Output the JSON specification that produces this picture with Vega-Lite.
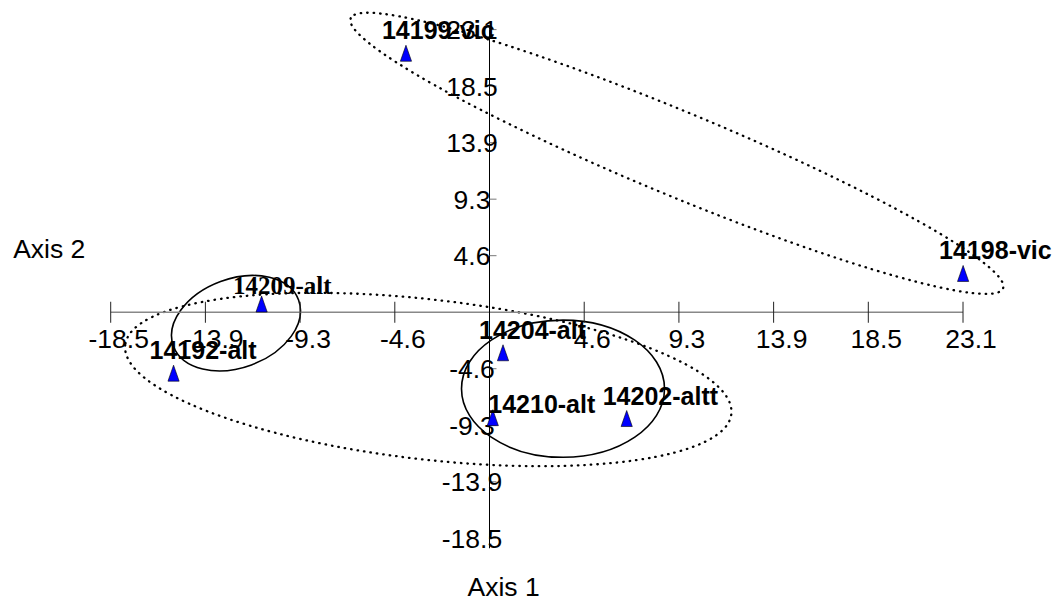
{
  "$schema": "https://vega.github.io/schema/vega-lite/v6.json",
  "width": 1057,
  "height": 601,
  "autosize": "none",
  "padding": 0,
  "background": "white",
  "config": {"view": {"stroke": null}},
  "datasets": {
    "points": [
      {"name": "14198-vic", "x": 23.13, "y": 3.17},
      {"name": "14199-vic", "x": -4.08, "y": 21.19},
      {"name": "14209-alt", "x": -11.13, "y": 0.67},
      {"name": "14192-alt", "x": -15.43, "y": -4.99},
      {"name": "14204-alt", "x": 0.66, "y": -3.32},
      {"name": "14210-alt", "x": 0.16, "y": -8.63},
      {"name": "14202-altt", "x": 6.70, "y": -8.70}
    ],
    "ticks": [
      {"v": -18.5, "label": "-18.5"}, {"v": -13.875, "label": "-13.9"}, {"v": -9.25, "label": "-9.3"}, {"v": -4.625, "label": "-4.6"},
      {"v": 4.625, "label": "4.6"}, {"v": 9.25, "label": "9.3"}, {"v": 13.875, "label": "13.9"}, {"v": 18.5, "label": "18.5"}, {"v": 23.125, "label": "23.1"}
    ],
    "ellipses": [
      {"group": "A", "x": 9.15, "y": 13.0},
      {"group": "B", "x": -2.99, "y": -5.51},
      {"group": "C", "x": -12.38, "y": -0.90},
      {"group": "D", "x": 3.59, "y": -6.26}
    ],
    "titles": [
      {"t": "Axis 2", "x": -21.5, "y": 5.13},
      {"t": "Axis 1", "x": 0.69, "y": -22.53}
    ]
  },
  "layer": [
    {
      "data": {"name": "ellipses"},
      "transform": [{"filter": "datum.group == 'A'"}],
      "mark": {"type": "point", "shape": "M-353 0A353 42 0 1 0 353 0A353 42 0 1 0 -353 0Z", "size": 4, "angle": 22.5, "filled": false, "stroke": "black", "strokeWidth": 2.3, "strokeDash": [0.5, 6], "strokeCap": "round", "opacity": 1},
      "encoding": {
        "x": {"field": "x", "type": "quantitative", "scale": {"domain": [-23.906, 27.715], "nice": false, "zero": false}, "axis": null},
        "y": {"field": "y", "type": "quantitative", "scale": {"domain": [-23.633, 25.548], "nice": false, "zero": false}, "axis": null}
      }
    },
    {
      "data": {"name": "ellipses"},
      "transform": [{"filter": "datum.group == 'B'"}],
      "mark": {"type": "point", "shape": "M-305 0A305 80 0 1 0 305 0A305 80 0 1 0 -305 0Z", "size": 4, "angle": 6.5, "filled": false, "stroke": "black", "strokeWidth": 2.3, "strokeDash": [0.5, 6], "strokeCap": "round", "opacity": 1},
      "encoding": {
        "x": {"field": "x", "type": "quantitative"},
        "y": {"field": "y", "type": "quantitative"}
      }
    },
    {
      "data": {"name": "ellipses"},
      "transform": [{"filter": "datum.group == 'C'"}],
      "mark": {"type": "point", "shape": "M-66.7 0A66.7 44.5 0 1 0 66.7 0A66.7 44.5 0 1 0 -66.7 0Z", "size": 4, "angle": 339.7, "filled": false, "stroke": "black", "strokeWidth": 1.6, "opacity": 1},
      "encoding": {
        "x": {"field": "x", "type": "quantitative"},
        "y": {"field": "y", "type": "quantitative"}
      }
    },
    {
      "data": {"name": "ellipses"},
      "transform": [{"filter": "datum.group == 'D'"}],
      "mark": {"type": "point", "shape": "M-101.5 0A101.5 68.6 0 1 0 101.5 0A101.5 68.6 0 1 0 -101.5 0Z", "size": 4, "angle": 0, "filled": false, "stroke": "black", "strokeWidth": 1.6, "opacity": 1},
      "encoding": {
        "x": {"field": "x", "type": "quantitative"},
        "y": {"field": "y", "type": "quantitative"}
      }
    },
    {
      "data": {"name": "ticks"},
      "mark": {"type": "rule", "color": "#888888", "strokeWidth": 1.6},
      "encoding": {
        "x": {"aggregate": "min", "field": "v", "type": "quantitative"},
        "x2": {"aggregate": "max", "field": "v"},
        "y": {"datum": 0, "type": "quantitative"}
      }
    },
    {
      "data": {"name": "ticks"},
      "mark": {"type": "rule", "color": "black", "strokeWidth": 1, "yOffset": 10, "y2Offset": -1.5},
      "encoding": {
        "y": {"aggregate": "min", "field": "v", "type": "quantitative"},
        "y2": {"aggregate": "max", "field": "v"},
        "x": {"datum": 0, "type": "quantitative"}
      }
    },
    {
      "data": {"name": "ticks"},
      "mark": {"type": "tick", "orient": "vertical", "size": 21, "thickness": 1, "color": "#222222", "opacity": 1},
      "encoding": {
        "x": {"field": "v", "type": "quantitative"},
        "y": {"datum": 0, "type": "quantitative"}
      }
    },
    {
      "data": {"name": "ticks"},
      "mark": {"type": "tick", "orient": "horizontal", "size": 7, "thickness": 1, "xOffset": 3.5, "color": "#777777", "opacity": 1},
      "encoding": {
        "y": {"field": "v", "type": "quantitative"},
        "x": {"datum": 0, "type": "quantitative"}
      }
    },
    {
      "data": {"name": "ticks"},
      "mark": {"type": "text", "font": "Liberation Sans", "fontSize": 26.5, "align": "center", "baseline": "middle", "dx": 8, "dy": 28, "color": "black"},
      "encoding": {
        "x": {"field": "v", "type": "quantitative"},
        "y": {"datum": 0, "type": "quantitative"},
        "text": {"field": "label"}
      }
    },
    {
      "data": {"name": "ticks"},
      "mark": {"type": "text", "font": "Liberation Sans", "fontSize": 26.5, "align": "center", "baseline": "middle", "dx": -17.5, "dy": 1.5, "color": "black"},
      "encoding": {
        "y": {"field": "v", "type": "quantitative"},
        "x": {"datum": 0, "type": "quantitative"},
        "text": {"field": "label"}
      }
    },
    {
      "data": {"name": "points"},
      "mark": {"type": "point", "shape": "M0 -1L0.7 1L-0.7 1Z", "size": 256, "filled": true, "fill": "#0000ff", "stroke": "black", "strokeWidth": 0.6, "opacity": 1},
      "encoding": {
        "x": {"field": "x", "type": "quantitative"},
        "y": {"field": "y", "type": "quantitative"}
      }
    },
    {
      "data": {"name": "points"},
      "transform": [{"filter": "datum.name != '14209-alt' && datum.name != '14210-alt'"}],
      "mark": {"type": "text", "font": "Liberation Sans", "fontWeight": "bold", "fontSize": 25, "align": "left", "baseline": "alphabetic", "dx": -24, "dy": -14, "color": "black"},
      "encoding": {
        "x": {"field": "x", "type": "quantitative"},
        "y": {"field": "y", "type": "quantitative"},
        "text": {"field": "name"}
      }
    },
    {
      "data": {"name": "points"},
      "transform": [{"filter": "datum.name == '14210-alt'"}],
      "mark": {"type": "text", "font": "Liberation Sans", "fontWeight": "bold", "fontSize": 25, "align": "left", "baseline": "alphabetic", "dx": -4.5, "dy": -4.5, "color": "black"},
      "encoding": {
        "x": {"field": "x", "type": "quantitative"},
        "y": {"field": "y", "type": "quantitative"},
        "text": {"field": "name"}
      }
    },
    {
      "data": {"name": "points"},
      "transform": [{"filter": "datum.name == '14209-alt'"}],
      "mark": {"type": "text", "font": "Liberation Serif", "fontWeight": "bold", "fontSize": 25, "align": "left", "baseline": "alphabetic", "dx": -28.7, "dy": -10, "color": "black"},
      "encoding": {
        "x": {"field": "x", "type": "quantitative"},
        "y": {"field": "y", "type": "quantitative"},
        "text": {"field": "name"}
      }
    },
    {
      "data": {"name": "titles"},
      "mark": {"type": "text", "font": "Liberation Sans", "fontSize": 26.5, "align": "center", "baseline": "middle", "color": "black"},
      "encoding": {
        "x": {"field": "x", "type": "quantitative"},
        "y": {"field": "y", "type": "quantitative"},
        "text": {"field": "t"}
      }
    }
  ]
}
